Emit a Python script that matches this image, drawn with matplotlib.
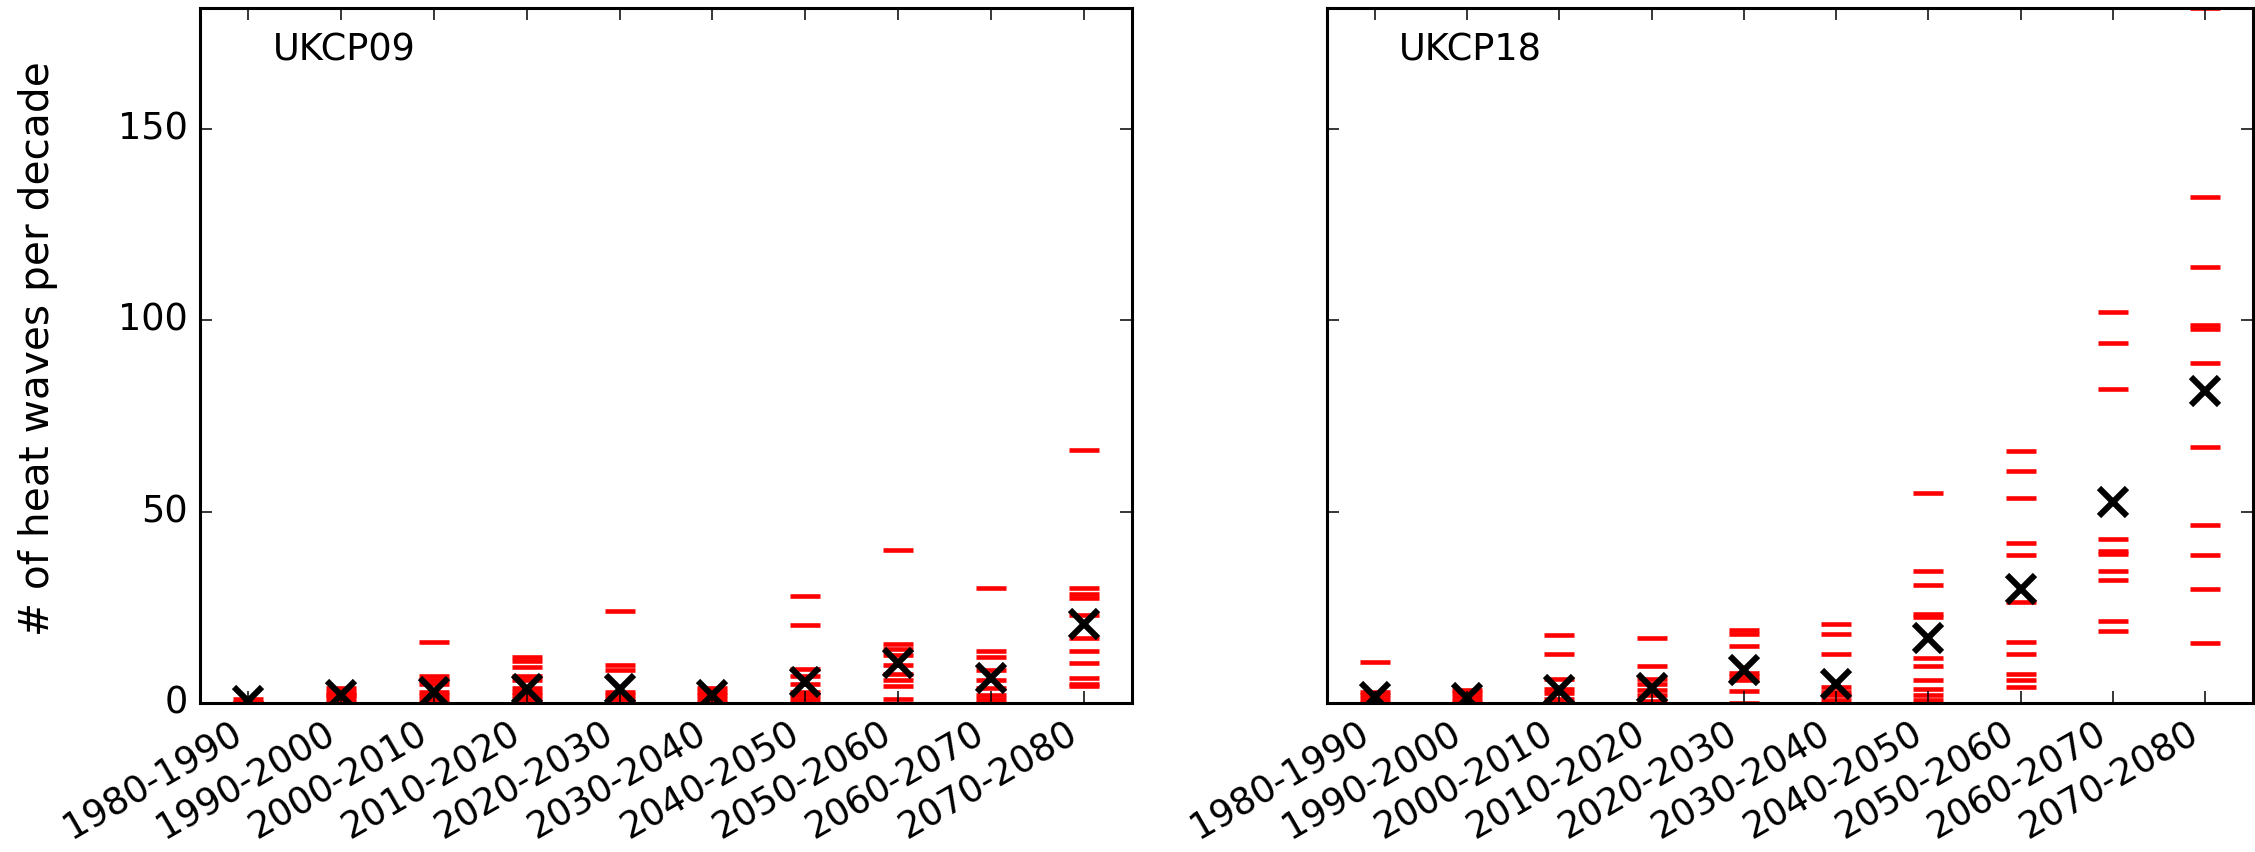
import numpy as np
import matplotlib
matplotlib.use("Agg")
import matplotlib.pyplot as plt

DECADES = ["1980-1990", "1990-2000", "2000-2010", "2010-2020", "2020-2030",
           "2030-2040", "2040-2050", "2050-2060", "2060-2070", "2070-2080"]

# per-member heat wave counts (red dashes) and ensemble mean (black X)
UKCP09_MEMBERS = [
    [0, 0, 0, 0, 0, 1],
    [0, 1, 2, 2, 3, 4],
    [16, 7, 6, 5, 3, 2, 1, 0],
    [12, 11, 9.5, 7, 6, 4, 3, 2, 1, 0],
    [24, 10, 8.5, 3, 2, 1, 0],
    [4, 3, 2, 1, 0],
    [28, 20.5, 9, 7, 5, 3, 2, 1, 0],
    [40, 15.5, 14, 12.5, 10, 7.5, 6, 4.5, 1],
    [30, 13.5, 12, 8.5, 6, 4, 2, 1, 0],
    [66, 30, 28.5, 27.5, 23, 17, 13.5, 10.5, 6.5, 5, 4.5],
]
UKCP09_MEAN = [0.5, 2, 3, 3.7, 3.7, 2, 5.5, 10.4, 6.5, 20.7]

UKCP18_MEMBERS = [
    [10.7, 3, 2, 1, 0],
    [3.3, 2.5, 1.5, 0.5, 0],
    [17.8, 12.7, 6.3, 3.7, 2.5, 1, 0],
    [17, 9.7, 6.3, 5, 3.5, 2, 0.5],
    [19.1, 18.1, 14.8, 7.8, 7, 6, 3.1, 0],
    [20.7, 18.1, 12.8, 4.2, 3, 2, 0.7],
    [54.8, 34.5, 30.9, 23.3, 22.4, 11.8, 9.6, 5.9, 3.7, 2.2, 0.7],
    [65.8, 60.6, 53.6, 41.9, 38.7, 26.3, 15.9, 12.8, 7.6, 6, 4.2],
    [102, 94, 82, 42.8, 39.7, 38.8, 34.4, 32, 21.4, 18.8],
    [181.5, 132.2, 113.9, 98.8, 97.8, 88.7, 66.8, 46.4, 38.6, 29.8, 15.6],
]
UKCP18_MEAN = [1.5, 1.2, 3.3, 4, 8.7, 5, 16.9, 29.8, 52.4, 81.5]

PANELS = [("UKCP09", UKCP09_MEMBERS, UKCP09_MEAN),
          ("UKCP18", UKCP18_MEMBERS, UKCP18_MEAN)]

plt.style.use("classic")
plt.rcParams["font.size"] = 12

fig = plt.figure(figsize=(2255 / 220, 852 / 220), dpi=220, facecolor="white")
axes = [fig.add_axes([200 / 2255, 149 / 852, 932 / 2255, 695 / 852]),
        fig.add_axes([1327 / 2255, 149 / 852, 926 / 2255, 695 / 852])]

for i, (ax, (name, members, means)) in enumerate(zip(axes, PANELS)):
    for k, vals in enumerate(members):
        ax.plot(np.full(len(vals), k), vals, linestyle="none", marker="_",
                markersize=9.5, markeredgewidth=1.5, color="red", zorder=2)
    ax.plot(np.arange(len(means)), means, linestyle="none", marker="x",
            markersize=9, markeredgewidth=2, color="black", zorder=3)
    ax.set_xlim(-0.52, 9.52)
    ax.set_ylim(0, 181.5)
    ax.set_xticks(range(len(DECADES)))
    ax.set_xticklabels(DECADES, rotation=30, ha="right")
    ax.set_yticks([0, 50, 100, 150])
    ax.text(0.078, 0.966, name, transform=ax.transAxes, va="top", ha="left")
    ax.set_facecolor("white")
    if i == 0:
        ax.set_ylabel("# of heat waves per decade", fontsize=13.3)
        ax.yaxis.set_label_coords(-0.152, 0.51)
    else:
        ax.set_yticklabels([])

fig.savefig("out.png", dpi=220, facecolor="white")
